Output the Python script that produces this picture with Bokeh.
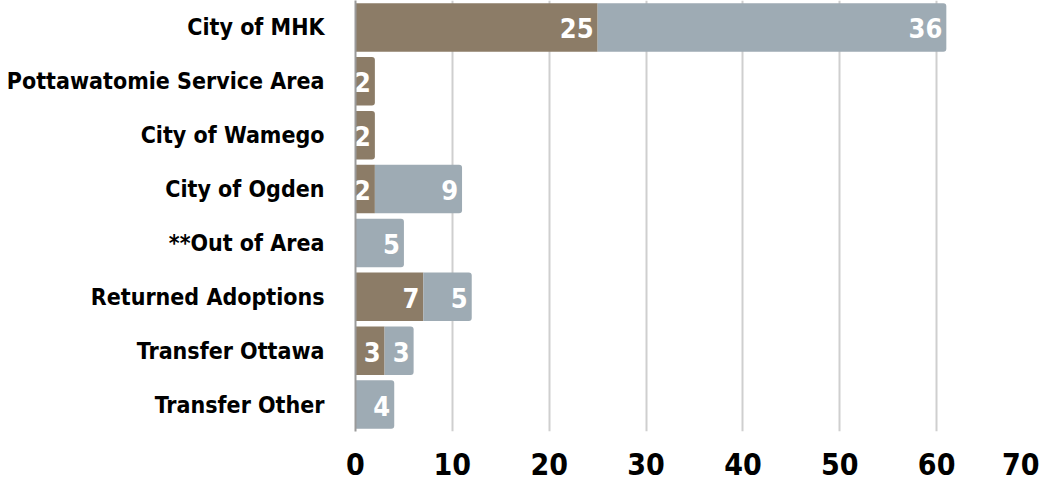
from bokeh.plotting import figure
from bokeh.models import ColumnDataSource, FactorRange, Range1d, FixedTicker
from bokeh.core.properties import value
from bokeh.embed import file_html
from bokeh.resources import INLINE

categories = ["City of MHK", "Pottawatomie Service Area", "City of Wamego", "City of Ogden",
              "**Out of Area", "Returned Adoptions", "Transfer Ottawa", "Transfer Other"]
series_a = [25, 2, 2, 2, 0, 7, 3, 0]
series_b = [36, 0, 0, 9, 5, 5, 3, 4]
x_ticks = [0, 10, 20, 30, 40, 50, 60, 70]

FONT = "DejaVu Sans Condensed"
BROWN = "#8c7c67"
GRAY = "#9eabb4"

p = figure(width=1039, height=481,
           y_range=FactorRange(*reversed(categories)),
           x_range=Range1d(0, 70),
           output_backend="svg", toolbar_location=None,
           min_border_left=355, min_border_right=6, min_border_top=0,
           min_border_bottom=50)
p.outline_line_color = None

a_src_plain = dict(y=[], left=[], right=[])
a_src_round = dict(y=[], left=[], right=[])
b_src = dict(y=[], left=[], right=[])
lab = dict(y=[], x=[], t=[])
for c, a, b in zip(categories, series_a, series_b):
    if a > 0:
        d = a_src_plain if b > 0 else a_src_round
        d["y"].append(c); d["left"].append(0); d["right"].append(a)
        lab["y"].append(c); lab["x"].append(a); lab["t"].append(str(a))
    if b > 0:
        b_src["y"].append(c); b_src["left"].append(a); b_src["right"].append(a + b)
        lab["y"].append(c); lab["x"].append(a + b); lab["t"].append(str(b))

p.hbar(y="y", left="left", right="right", height=0.9, source=ColumnDataSource(a_src_plain),
       fill_color=BROWN, line_color=None)
p.hbar(y="y", left="left", right="right", height=0.9, source=ColumnDataSource(a_src_round),
       fill_color=BROWN, line_color=None, border_radius=(0, 3, 3, 0))
p.hbar(y="y", left="left", right="right", height=0.9, source=ColumnDataSource(b_src),
       fill_color=GRAY, line_color=None, border_radius=(0, 3, 3, 0))

p.text(x="x", y="y", text="t", source=ColumnDataSource(lab),
       text_font=value(FONT), text_font_style="bold", text_font_size="27px",
       text_color="white", text_align="right", text_baseline="middle", x_offset=-4, y_offset=1)

p.xaxis.ticker = FixedTicker(ticks=x_ticks)
p.xaxis.axis_line_color = None
p.xaxis.major_tick_line_color = None
p.xaxis.minor_tick_line_color = None
p.xaxis.major_label_text_font = FONT
p.xaxis.major_label_text_font_style = "bold"
p.xaxis.major_label_text_font_size = "30px"
p.xaxis.major_label_text_color = "black"
p.xaxis.major_label_standoff = 15

p.yaxis.axis_line_color = "#9a9a9a"
p.yaxis.axis_line_width = 2
p.yaxis.major_tick_line_color = None
p.yaxis.minor_tick_line_color = None
p.yaxis.major_label_text_font = FONT
p.yaxis.major_label_text_font_style = "bold"
p.yaxis.major_label_text_font_size = "23px"
p.yaxis.major_label_text_color = "black"
p.yaxis.major_label_standoff = 25

p.xgrid.grid_line_color = "#cfcfcf"
p.xgrid.grid_line_width = 2
p.ygrid.grid_line_color = None

open("out.html", "w").write(file_html(p, INLINE))
